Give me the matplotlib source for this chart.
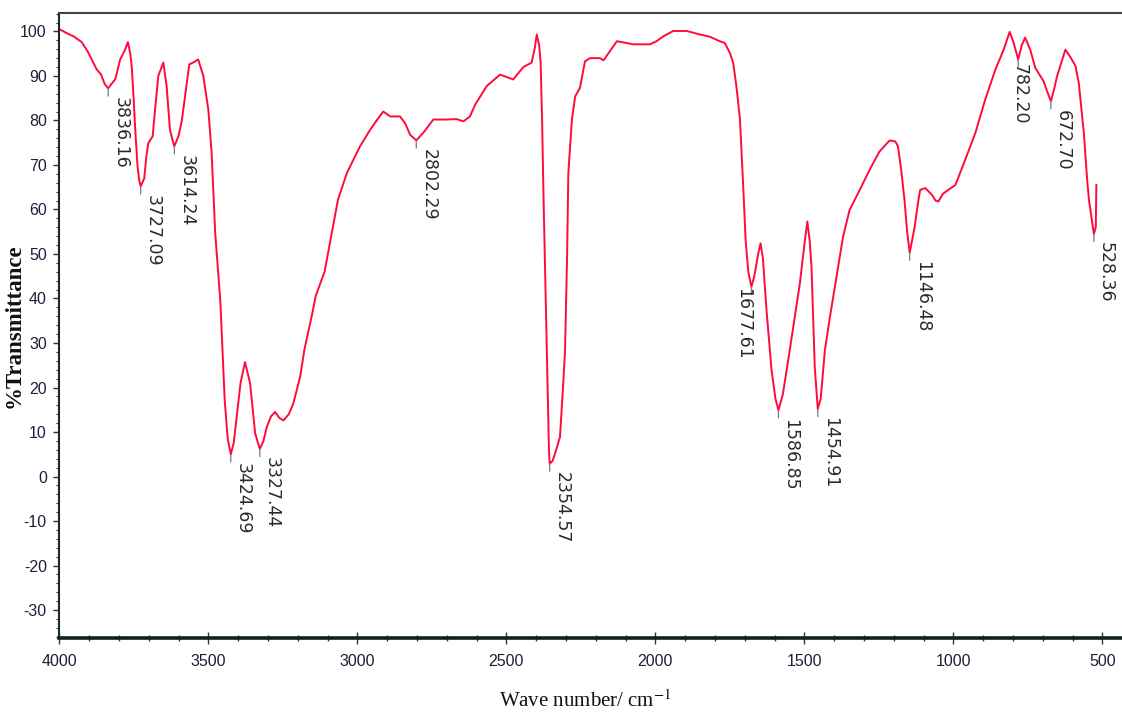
import numpy as np
import matplotlib.pyplot as plt
from matplotlib.ticker import MultipleLocator

# Espectro FTIR (número de onda em cm-1, transmitância em %)
numero_onda = [
    4000, 3975, 3950, 3925, 3905, 3890, 3875, 3860, 3848, 3836.16,
    3825, 3812, 3796, 3780, 3770, 3762, 3757, 3750, 3746, 3738,
    3732, 3727.09, 3715, 3708, 3701, 3687, 3678, 3668, 3651, 3640,
    3629, 3620, 3614.24, 3600, 3589, 3575, 3564, 3551, 3534, 3517,
    3500, 3489, 3477, 3460, 3445, 3435, 3424.69, 3415, 3405, 3392,
    3377, 3360, 3343, 3327.44, 3315, 3304, 3290, 3276, 3262, 3248,
    3230, 3215, 3192, 3178, 3150, 3140, 3110, 3085, 3065, 3035,
    2991, 2957, 2930, 2913, 2890, 2857, 2840, 2823, 2802.29, 2779,
    2745, 2700, 2667, 2644, 2622, 2605, 2566, 2521, 2493, 2477,
    2443, 2415, 2404, 2398, 2390, 2385, 2380, 2375, 2368, 2362,
    2357, 2354.57, 2345, 2335, 2320, 2309, 2303, 2296, 2292, 2280,
    2269, 2253, 2236, 2219, 2186, 2174, 2152, 2129, 2074, 2018,
    1996, 1973, 1940, 1895, 1850, 1817, 1784, 1767, 1750, 1739,
    1728, 1716, 1705, 1697, 1688, 1677.61, 1668, 1655, 1647, 1639,
    1627, 1610, 1597, 1586.85, 1572, 1549, 1515, 1500, 1490, 1482,
    1476, 1465, 1454.91, 1445, 1431, 1414, 1392, 1370, 1348, 1314,
    1281, 1248, 1214, 1195, 1186, 1175, 1164, 1155, 1146.48, 1130,
    1117, 1111, 1094, 1072, 1060, 1050, 1035, 1017, 993, 960,
    926, 893, 859, 831, 811, 798, 782.20, 770, 759, 742,
    725, 697, 685, 672.70, 662, 652, 624, 605, 590, 579,
    562, 551, 545, 535, 528.36, 522, 520,
]
transmitancia = [
    100.5, 99.6, 98.8, 97.6, 95.5, 93.5, 91.5, 90.3, 88.2, 87.2,
    88.2, 89.3, 93.7, 95.8, 97.6, 95.0, 92.0, 84.0, 78.7, 70.0,
    66.5, 65.2, 67.0, 72.0, 75.0, 76.4, 83.0, 90.0, 93.0, 87.7,
    78.0, 75.5, 74.2, 76.5, 80.0, 87.0, 92.6, 93.0, 93.7, 90.0,
    82.4, 72.7, 54.7, 39.6, 17.0, 8.5, 5.0, 7.5, 13.4, 21.0,
    25.7, 21.0, 9.7, 6.2, 8.0, 11.1, 13.5, 14.5, 13.2, 12.6,
    14.0, 16.4, 22.4, 28.4, 37.0, 40.5, 46.0, 55.0, 62.2, 68.2,
    74.2, 77.9, 80.5, 82.0, 80.9, 80.9, 79.4, 76.8, 75.5, 77.2,
    80.2, 80.2, 80.3, 79.8, 80.9, 83.5, 87.7, 90.3, 89.6, 89.2,
    92.0, 93.0, 96.5, 99.3, 97.0, 93.0, 80.0, 62.0, 40.0, 20.0,
    6.0, 2.9, 3.5, 5.5, 8.9, 21.0, 28.4, 50.0, 68.2, 80.2,
    85.4, 87.3, 93.3, 94.0, 94.0, 93.5, 95.6, 97.8, 97.1, 97.1,
    97.8, 98.9, 100.1, 100.1, 99.3, 98.8, 97.8, 97.4, 95.2, 93.0,
    87.7, 80.2, 65.0, 53.0, 46.0, 42.6, 45.0, 50.0, 52.4, 49.0,
    37.4, 23.9, 17.5, 14.9, 18.5, 28.4, 43.4, 52.0, 57.3, 53.0,
    47.1, 24.6, 15.2, 17.5, 28.4, 35.9, 44.9, 53.9, 59.9, 64.4,
    68.9, 73.0, 75.5, 75.3, 74.2, 68.9, 62.2, 55.0, 50.3, 56.0,
    62.2, 64.4, 64.8, 63.3, 62.0, 61.8, 63.5, 64.4, 65.5, 71.2,
    77.2, 84.7, 91.4, 95.9, 99.9, 97.5, 93.7, 97.0, 98.6, 95.9,
    91.8, 88.8, 86.5, 84.3, 87.0, 89.9, 95.9, 94.0, 92.2, 88.4,
    77.2, 66.7, 62.2, 57.5, 54.5, 56.0, 65.5,
]

# Picos marcados no espectro
picos = [3836.16, 3727.09, 3614.24, 3424.69, 3327.44, 2802.29, 2354.57,
         1677.61, 1586.85, 1454.91, 1146.48, 782.20, 672.70, 528.36]

plt.rcParams['axes.unicode_minus'] = False
plt.rcParams['mathtext.fontset'] = 'stix'

cor_texto = '#1e1e3a'

fig = plt.figure(figsize=(11.22, 7.14), dpi=100)
ax = fig.add_axes([0.0529, 0.1069, 0.9471, 0.8753])

ax.plot(numero_onda, transmitancia, color='#ff0a3c', lw=1.4)

ax.set_xlim(4000, 434)
ax.set_ylim(-36.2, 104.2)

ax.xaxis.set_major_locator(MultipleLocator(500))
ax.xaxis.set_minor_locator(MultipleLocator(100))
ax.yaxis.set_major_locator(MultipleLocator(10))
ax.yaxis.set_minor_locator(MultipleLocator(2))

ax.tick_params(axis='x', which='major', direction='inout', length=8, width=1, pad=8,
               colors='#333', labelcolor=cor_texto)
ax.tick_params(axis='x', which='minor', direction='inout', length=5, width=1, colors='#333')
ax.tick_params(axis='y', which='major', direction='out', length=4, width=1, pad=5,
               colors='#333', labelcolor=cor_texto)
ax.tick_params(axis='y', which='minor', direction='out', length=2.5, width=0.8, colors='#333')
for lbl in ax.get_xticklabels() + ax.get_yticklabels():
    lbl.set_family('Liberation Sans')
    lbl.set_fontsize(11.5)

ax.spines['right'].set_visible(False)
ax.spines['top'].set_color('#444')
ax.spines['top'].set_linewidth(1.5)
ax.spines['left'].set_color('#1a2a2a')
ax.spines['left'].set_linewidth(1.5)
ax.spines['bottom'].set_color('#0f2020')
ax.spines['bottom'].set_linewidth(2.6)

ax.set_xlabel('Wave number/ cm$^{-1}$', family='Liberation Serif', fontsize=15,
              color='#111')
ax.xaxis.set_label_coords(0.495, -0.084)
ax.set_ylabel('%Transmittance', family='Liberation Serif', fontsize=16.5,
              fontweight='bold', color='#111')
ax.yaxis.set_label_coords(-0.0323, 0.5)

# Rótulos dos picos: traço curto e número na vertical
alinhamento = {1677.61: ('right', 0.5, -0.5), 782.20: ('center', 1.0, -3.5)}
for p in picos:
    t = np.interp(p, numero_onda[::-1], transmitancia[::-1])
    ax.annotate('', xy=(p, t), xytext=(0, -5.5), textcoords='offset points',
                arrowprops=dict(arrowstyle='-', color='#778', lw=0.9,
                                shrinkA=0, shrinkB=0))
    ha, dx, dy = alinhamento.get(p, ('left', 2.2, -6.0))
    ax.annotate(f'{p:.2f}', xy=(p, t), xytext=(dx, dy), textcoords='offset points',
                rotation=270, ha=ha, va='top', fontsize=12.5, color='#2a2a2a')

plt.savefig('out.png', dpi=100)
